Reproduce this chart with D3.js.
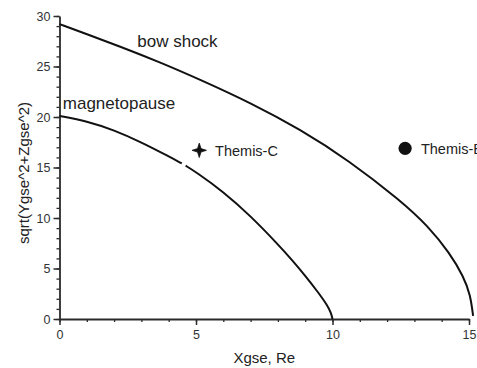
<!DOCTYPE html>
<html>
<head>
<meta charset="utf-8">
<script src="https://cdn.jsdelivr.net/npm/d3@7"></script>
<style>
  html, body { margin: 0; padding: 0; background: #fff; }
  svg { display: block; }
  text { font-family: "Liberation Sans", Arial, Helvetica, sans-serif; }
</style>
</head>
<body>
<svg id="chart" width="477" height="368"></svg>
<script>
// Bow shock boundary, Xgse vs sqrt(Ygse^2+Zgse^2), in Earth radii
const bowShockX = [0, 1.0, 2.2, 3.7, 5.15, 7.0, 8.8, 10.6, 12.5, 13.5, 14.3, 14.8, 15.05, 15.15];
const bowShockY = [29.2, 28.2, 27.0, 25.4, 23.7, 21.4, 18.8, 15.7, 11.7, 9.2, 6.5, 4.2, 2.4, 0.3];

// Magnetopause boundary (null marks a short break in the trace)
const magnetopauseX = [0, 1.0, 2.0, 3.0, 4.0, 4.48, null, 4.62, 5.0, 6.0, 7.0, 8.0, 8.5, 9.0, 9.5, 9.8, 9.95, 10.0];
const magnetopauseY = [20.1, 19.6, 18.7, 17.5, 16.1, 15.4, null, 15.18, 14.55, 12.6, 10.2, 7.4, 5.9, 4.3, 2.55, 1.4, 0.6, 0];

// Spacecraft positions
const probeNames = ["Themis-C", "Themis-B"];
const probeX = [5.12, 12.66];
const probeY = [16.7, 16.9];

// Axis ticks
const xMajorTicks = [0, 5, 10, 15];
const yMajorTicks = [0, 5, 10, 15, 20, 25, 30];
const xMinorTicks = d3.range(0, 16, 1);
const yMinorTicks = d3.range(0, 31, 1);

// Curve labels
const curveLabels = ["bow shock", "magnetopause"];
const curveLabelAt = [[2.85, 26.9], [0.12, 20.8]];

const svg = d3.select("#chart");
const margin = { left: 59.5, right: 8, top: 16, bottom: 49 };
const W = 477, H = 368;

const x = d3.scaleLinear().domain([0, 15]).range([margin.left, W - margin.right]);
const y = d3.scaleLinear().domain([0, 30]).range([H - margin.bottom, margin.top]);

const axisColor = "#2a2a2a";

// Minor ticks
svg.append("g")
  .attr("transform", `translate(0,${y(0)})`)
  .call(d3.axisBottom(x).tickValues(xMinorTicks).tickSize(3).tickSizeOuter(0).tickFormat(""))
  .call(g => g.select(".domain").remove())
  .call(g => g.selectAll("line").attr("stroke", axisColor).attr("stroke-width", 1.3));

svg.append("g")
  .attr("transform", `translate(${x(0)},0)`)
  .call(d3.axisLeft(y).tickValues(yMinorTicks).tickSize(3).tickSizeOuter(0).tickFormat(""))
  .call(g => g.select(".domain").remove())
  .call(g => g.selectAll("line").attr("stroke", axisColor).attr("stroke-width", 1.3));

// Major ticks with labels
const gx = svg.append("g")
  .attr("transform", `translate(0,${y(0)})`)
  .call(d3.axisBottom(x).tickValues(xMajorTicks).tickSize(6).tickSizeOuter(0).tickPadding(5).tickFormat(d3.format("d")));
gx.select(".domain").attr("stroke", axisColor).attr("stroke-width", 1.8);
gx.selectAll("line").attr("stroke", axisColor).attr("stroke-width", 1.5);
gx.selectAll("text").attr("font-size", 12.5).attr("fill", "#333").attr("font-family", null);

const gy = svg.append("g")
  .attr("transform", `translate(${x(0)},0)`)
  .call(d3.axisLeft(y).tickValues(yMajorTicks).tickSize(6).tickSizeOuter(0).tickPadding(3).tickFormat(d3.format("d")));
gy.select(".domain").attr("stroke", axisColor).attr("stroke-width", 1.8);
gy.selectAll("line").attr("stroke", axisColor).attr("stroke-width", 1.5);
gy.selectAll("text").attr("font-size", 12.5).attr("fill", "#333").attr("font-family", null);

// Axis titles
svg.append("text")
  .attr("x", (x(0) + x(15)) / 2)
  .attr("y", 363)
  .attr("text-anchor", "middle")
  .attr("font-size", 15)
  .attr("fill", "#222")
  .text("Xgse, Re");

svg.append("text")
  .attr("transform", `translate(29,173) rotate(-90)`)
  .attr("text-anchor", "middle")
  .attr("font-size", 15)
  .attr("fill", "#222")
  .text("sqrt(Ygse^2+Zgse^2)");

// Boundary curves, smoothed with a B-spline through the traced points
const line = d3.line()
  .defined(d => d[0] != null)
  .x(d => x(d[0]))
  .y(d => y(d[1]))
  .curve(d3.curveBasis);

const bowShock = bowShockX.map((v, i) => [v, bowShockY[i]]);
const magnetopause = magnetopauseX.map((v, i) => [v, magnetopauseY[i]]);

[bowShock, magnetopause].forEach(data => {
  svg.append("path")
    .datum(data)
    .attr("d", line)
    .attr("fill", "none")
    .attr("stroke", "#111")
    .attr("stroke-width", 2);
});

// Curve labels
curveLabels.forEach((t, i) => {
  svg.append("text")
    .attr("x", x(curveLabelAt[i][0]))
    .attr("y", y(curveLabelAt[i][1]))
    .attr("font-size", 17)
    .attr("fill", "#222")
    .text(t);
});

// Four-pointed star symbol for Themis-C
const star4 = {
  draw(context, size) {
    const R = Math.sqrt(size);
    const r = R * 0.34;
    for (let k = 0; k < 8; k++) {
      const a = -Math.PI / 2 + k * Math.PI / 4;
      const rad = k % 2 === 0 ? R : r;
      const px = rad * Math.cos(a), py = rad * Math.sin(a);
      if (k === 0) context.moveTo(px, py); else context.lineTo(px, py);
    }
    context.closePath();
  }
};

svg.append("path")
  .attr("transform", `translate(${x(probeX[0])},${y(probeY[0])})`)
  .attr("d", d3.symbol().type(star4).size(52)())
  .attr("fill", "#111")
  .attr("stroke", "#111")
  .attr("stroke-width", 0.8)
  .attr("stroke-linejoin", "round");

svg.append("circle")
  .attr("cx", x(probeX[1]))
  .attr("cy", y(probeY[1]))
  .attr("r", 6.6)
  .attr("fill", "#111");

// Probe labels
probeNames.forEach((t, i) => {
  svg.append("text")
    .attr("x", x(probeX[i]) + 15.8)
    .attr("y", y(probeY[i]) + 5.5)
    .attr("font-size", 14.5)
    .attr("fill", "#222")
    .text(t);
});
</script>
</body>
</html>
